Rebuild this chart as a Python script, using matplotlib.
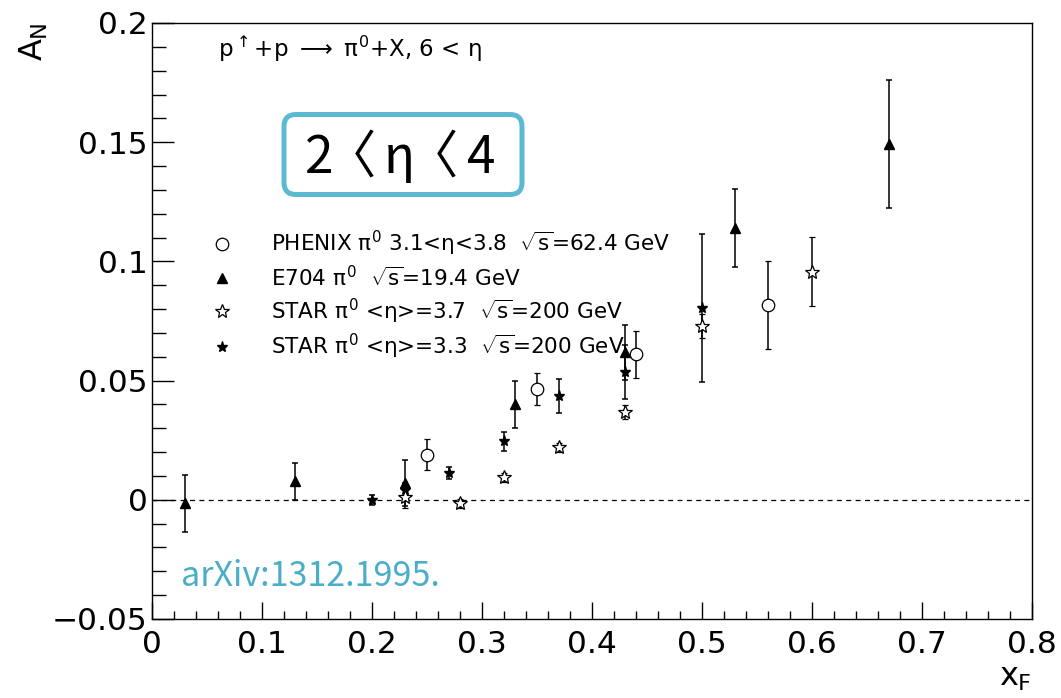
import matplotlib
matplotlib.use('Agg')
import matplotlib.pyplot as plt
from matplotlib.lines import Line2D
from matplotlib.patches import FancyBboxPatch
from matplotlib.ticker import MultipleLocator

# A_N vs x_F data
phenix_x = [0.25, 0.35, 0.44, 0.56]
phenix_y = [0.019, 0.0466, 0.061, 0.0816]
phenix_err = [0.0063, 0.0067, 0.0098, 0.0184]

e704_x = [0.03, 0.13, 0.23, 0.33, 0.43, 0.53, 0.67]
e704_y = [-0.0015, 0.0077, 0.007, 0.040, 0.0618, 0.114, 0.1492]
e704_err = [0.012, 0.0077, 0.0098, 0.0098, 0.0116, 0.0163, 0.0268]

star37_x = [0.23, 0.28, 0.32, 0.37, 0.43, 0.50, 0.60]
star37_y = [0.001, -0.0015, 0.0094, 0.022, 0.0367, 0.0728, 0.0957]
star37_err = [0.0045, 0.002, 0.002, 0.002, 0.003, 0.005, 0.0144]

star33_x = [0.20, 0.23, 0.27, 0.32, 0.37, 0.43, 0.50]
star33_y = [0.0, 0.004, 0.0112, 0.0245, 0.0437, 0.0537, 0.0805]
star33_err = [0.002, 0.003, 0.0026, 0.004, 0.0071, 0.0113, 0.031]

labels = [r'PHENIX $\pi^{0}$ 3.1<$\eta$<3.8  $\sqrt{s}$=62.4 GeV',
          r'E704 $\pi^{0}$  $\sqrt{s}$=19.4 GeV',
          r'STAR $\pi^{0}$ <$\eta$>=3.7  $\sqrt{s}$=200 GeV',
          r'STAR $\pi^{0}$ <$\eta$>=3.3  $\sqrt{s}$=200 GeV']

xticks = [0, 0.1, 0.2, 0.3, 0.4, 0.5, 0.6, 0.7, 0.8]
xtick_labels = ['0', '0.1', '0.2', '0.3', '0.4', '0.5', '0.6', '0.7', '0.8']
yticks = [-0.05, 0, 0.05, 0.1, 0.15, 0.2]
ytick_labels = ['\u22120.05', '0', '0.05', '0.1', '0.15', '0.2']

plt.rcParams['font.family'] = ['DejaVu Sans']
plt.rcParams['mathtext.fontset'] = 'custom'
plt.rcParams['mathtext.rm'] = 'DejaVu Sans'
plt.rcParams['mathtext.it'] = 'DejaVu Sans'
plt.rcParams['mathtext.bf'] = 'DejaVu Sans:bold'
plt.rcParams['mathtext.sf'] = 'Noto Sans CJK KR'  # only used for the boxed label

W, H = 1061, 698
fig = plt.figure(figsize=(W / 100, H / 100), dpi=100)
ax = fig.add_axes([152 / W, 1 - 619 / H, (1032 - 152) / W, (619 - 23) / H])

eb = dict(ecolor='black', elinewidth=1.1, capsize=2.5, capthick=1.1, linestyle='none')
ax.errorbar(e704_x, e704_y, yerr=e704_err, marker='^', ms=7, mfc='black', mec='black', zorder=3, **eb)
ax.errorbar(star33_x, star33_y, yerr=star33_err, marker='*', ms=8, mfc='black', mec='black', zorder=3, **eb)
ax.errorbar(star37_x, star37_y, yerr=star37_err, marker='*', ms=10, mfc='white', mec='black', mew=0.9, zorder=4, **eb)
ax.errorbar(phenix_x, phenix_y, yerr=phenix_err, marker='o', ms=9, mfc='white', mec='black', mew=0.9, zorder=4, **eb)

ax.axhline(0, color='black', lw=0.9, ls=(0, (4, 3.5)), zorder=1)

ax.set_xlim(0, 0.8)
ax.set_ylim(-0.05, 0.2)
ax.set_xticks(xticks)
ax.set_xticklabels(xtick_labels)
ax.set_yticks(yticks)
ax.set_yticklabels(ytick_labels)
ax.xaxis.set_minor_locator(MultipleLocator(0.02))
ax.yaxis.set_minor_locator(MultipleLocator(0.01))
ax.tick_params(axis='both', which='both', direction='in', width=1.0, labelsize=22.5, top=False, right=False)
ax.tick_params(axis='y', which='major', length=16, pad=3)
ax.tick_params(axis='y', which='minor', length=10)
ax.tick_params(axis='x', which='major', length=12, pad=8)
ax.tick_params(axis='x', which='minor', length=6)
for s in ax.spines.values():
    s.set_linewidth(1.0)

handles = [
    Line2D([], [], ls='none', marker='o', ms=9, mfc='white', mec='black', mew=0.9),
    Line2D([], [], ls='none', marker='^', ms=7, mfc='black', mec='black'),
    Line2D([], [], ls='none', marker='*', ms=10, mfc='white', mec='black', mew=0.9),
    Line2D([], [], ls='none', marker='*', ms=8, mfc='black', mec='black'),
]
ax.legend(handles, labels, loc='upper left', bbox_to_anchor=(211 / W, 1 - 229 / H),
          bbox_transform=fig.transFigure, frameon=False, fontsize=15.5, borderpad=0,
          borderaxespad=0, handlelength=1.0, handletextpad=1.8, labelspacing=0.3)

fig.text(218 / W, 1 - 57 / H, r'$p^{\uparrow}$+p $\longrightarrow$ $\pi^{0}$+X, 6 < $\eta$',
         fontsize=16.5, va='baseline', ha='left')

# axis titles in ROOT style
fig.text(34 / W, 1 - 22 / H, r'$A_{N}$', rotation=90, fontsize=23, ha='center', va='top')
fig.text(1032 / W, 1 - 662 / H, r'$x_{F}$', fontsize=23, ha='right', va='top')

# highlighted box
box = FancyBboxPatch((284 / 100, (H - 194.5) / 100), 238 / 100, 80 / 100,
                     boxstyle='round,pad=0,rounding_size=0.12', transform=fig.dpi_scale_trans,
                     fc='white', ec='#5bbad0', lw=3.6, zorder=5)
fig.patches.append(box)
fig.text(400 / W, 1 - 173 / H,
         '$\\mathsf{2}\\!\\mathsf{\u3008}\\,\\mathsf{\u03b7}\\!\\mathsf{\u3008}\\,\\mathsf{4}$',
         fontsize=37, ha='center', va='baseline', zorder=6)

fig.text(181 / W, 1 - 586 / H, 'arXiv:1312.1995.', fontsize=24.5, color='#4aaec8', ha='left',
         va='baseline', family=['Noto Sans CJK KR', 'DejaVu Sans'])

fig.savefig('out.png', dpi=100)
